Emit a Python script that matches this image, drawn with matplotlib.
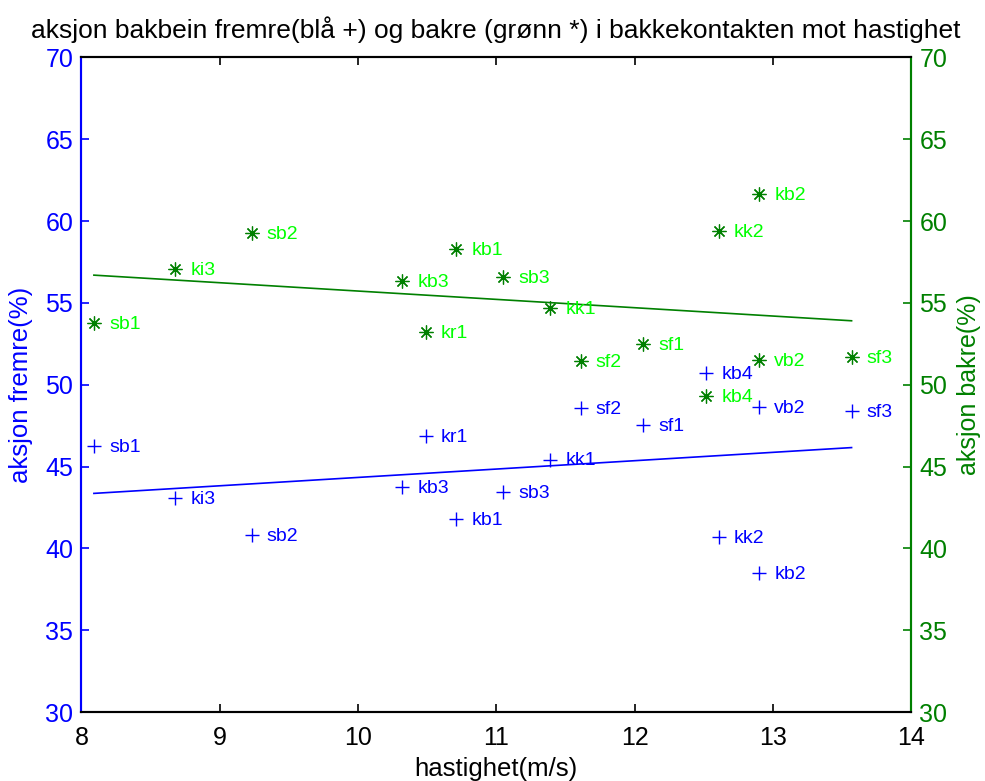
import numpy as np
import matplotlib.pyplot as plt

plt.rcParams['font.family'] = ['Liberation Sans', 'DejaVu Sans']

# løp: hastighet og aksjon for fremre/bakre bakbein
navn = ['sb1', 'ki3', 'sb2', 'kb3', 'kr1', 'kb1', 'sb3', 'kk1',
        'sf2', 'sf1', 'kb4', 'kk2', 'vb2', 'kb2', 'sf3']
hastighet = [8.09, 8.68, 9.23, 10.32, 10.49, 10.71, 11.05, 11.39,
             11.61, 12.06, 12.52, 12.61, 12.90, 12.90, 13.57]
fremre = [46.25, 43.05, 40.81, 43.72, 46.86, 41.77, 43.45, 45.43,
          48.55, 47.53, 50.69, 40.70, 48.61, 38.47, 48.40]
bakre = [53.78, 57.05, 59.25, 56.35, 53.20, 58.27, 56.60, 54.70,
         51.46, 52.48, 49.30, 59.39, 51.50, 61.63, 51.67]

blaa = '#0000ff'
mgronn = '#008000'
lgronn = '#00ff00'

x = np.array(hastighet)
xs = np.array([x.min(), x.max()])

fig = plt.figure(figsize=(9.85, 7.81), dpi=100)
fig.subplots_adjust(left=0.0827, right=0.9249, bottom=0.0883, top=0.9265)
ax1 = fig.add_subplot(111)
ax2 = ax1.twinx()

# fremre (blå +) med lineær tilpasning
ax1.plot(x, fremre, '+', color=blaa, markersize=10, markeredgewidth=1.0)
p1 = np.polyfit(x, fremre, 1)
ax1.plot(xs, np.polyval(p1, xs), color=blaa, lw=1.2)
for xi, yi, n in zip(x, fremre, navn):
    ax1.annotate(n, (xi, yi), xytext=(11, -1), textcoords='offset points',
                 va='center', ha='left', color=blaa, fontsize=14)

# bakre (grønn *) med lineær tilpasning
ax2.plot(x, bakre, linestyle='none', marker=(8, 2, 0), color=mgronn,
         markersize=10, markeredgewidth=0.9)
p2 = np.polyfit(x, bakre, 1)
ax2.plot(xs, np.polyval(p2, xs), color=mgronn, lw=1.2)
for xi, yi, n in zip(x, bakre, navn):
    ax2.annotate(n, (xi, yi), xytext=(11, -1), textcoords='offset points',
                 va='center', ha='left', color=lgronn, fontsize=14)

for ax in (ax1, ax2):
    ax.set_xlim(8, 14)
    ax.set_ylim(30, 70)
    ax.set_yticks(np.arange(30, 71, 5))

ax1.set_xticks(np.arange(8, 15, 1))
ax1.tick_params(axis='x', direction='in', length=6, width=1.2, top=True,
                labelsize=18, pad=10, colors='black')
ax1.tick_params(axis='y', direction='in', length=6, width=1.2,
                labelsize=18, pad=6, colors=blaa)
ax2.tick_params(axis='y', direction='in', length=6, width=1.2,
                labelsize=18, pad=6, colors=mgronn)

for ax in (ax1, ax2):
    for s in ax.spines.values():
        s.set_linewidth(1.5)
ax1.spines['left'].set_color(blaa)
ax2.spines['left'].set_color(blaa)
ax1.spines['right'].set_color(mgronn)
ax2.spines['right'].set_color(mgronn)

ax1.set_xlabel('hastighet(m/s)', fontsize=18.5, labelpad=5)
ax1.set_ylabel('aksjon fremre(%)', fontsize=18.5, color=blaa, labelpad=9)
ax2.set_ylabel('aksjon bakre(%)', fontsize=18, color=mgronn, labelpad=7)
ax1.set_title('aksjon bakbein fremre(blå +) og bakre (grønn *) i bakkekontakten mot hastighet',
              fontsize=19, pad=14)

fig.savefig('out.png', dpi=100)
